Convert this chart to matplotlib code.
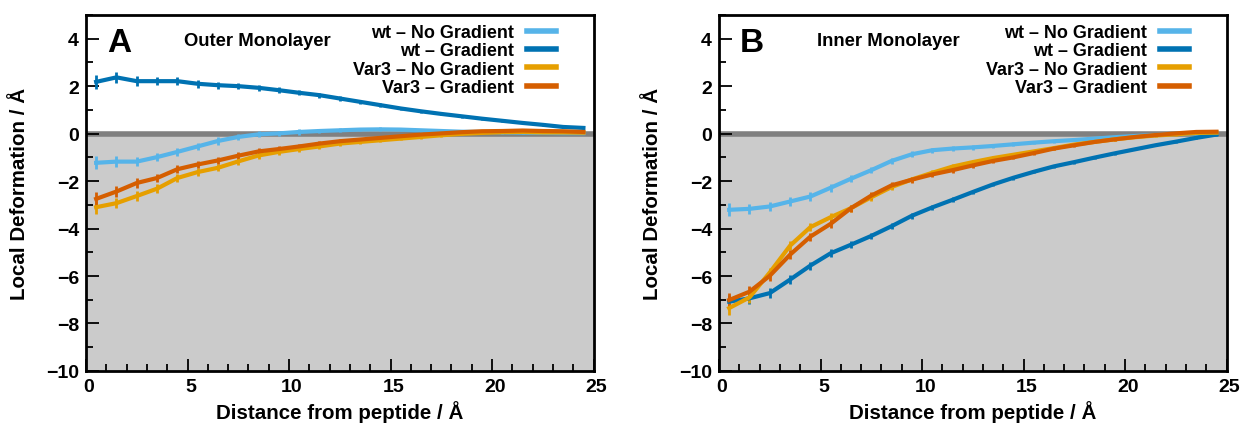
import numpy as np
import matplotlib
matplotlib.use('Agg')
from matplotlib import pyplot as plt
from matplotlib.ticker import MultipleLocator
from matplotlib.transforms import ScaledTranslation

plt.rcParams['font.family'] = ['Liberation Sans', 'DejaVu Sans']
plt.rcParams['font.weight'] = 'bold'

distance = [0.5 + i for i in range(25)]

# panel A - outer monolayer
outerWtNoGrad = [-1.23, -1.18, -1.18, -0.99, -0.77, -0.54, -0.31, -0.14, -0.03, 0.01, 0.07, 0.11, 0.14,
                 0.17, 0.18, 0.17, 0.14, 0.11, 0.08, 0.07, 0.05, 0.04, 0.03, 0.02, 0.02]
outerWtGrad = [2.18, 2.37, 2.21, 2.21, 2.21, 2.10, 2.04, 2.00, 1.93, 1.83, 1.72, 1.62, 1.48,
               1.34, 1.20, 1.06, 0.94, 0.83, 0.73, 0.63, 0.54, 0.45, 0.37, 0.28, 0.24]
outerVarNoGrad = [-3.10, -2.93, -2.63, -2.32, -1.87, -1.62, -1.44, -1.17, -0.92, -0.77, -0.65, -0.54, -0.42,
                  -0.35, -0.28, -0.21, -0.14, -0.07, -0.01, 0.03, 0.06, 0.07, 0.05, 0.05, 0.04]
outerVarGrad = [-2.75, -2.44, -2.08, -1.87, -1.50, -1.30, -1.13, -0.93, -0.75, -0.65, -0.54, -0.42, -0.32,
                -0.25, -0.18, -0.11, -0.04, 0.01, 0.06, 0.10, 0.11, 0.13, 0.11, 0.10, 0.07]

# panel B - inner monolayer
innerWtNoGrad = [-3.21, -3.17, -3.07, -2.86, -2.65, -2.28, -1.90, -1.54, -1.15, -0.87, -0.70, -0.63, -0.58,
                 -0.52, -0.45, -0.38, -0.32, -0.27, -0.21, -0.15, -0.10, -0.06, -0.01, 0.01, 0.03]
innerWtGrad = [-7.08, -6.94, -6.72, -6.15, -5.56, -5.04, -4.68, -4.31, -3.90, -3.46, -3.11, -2.79, -2.46,
               -2.14, -1.86, -1.61, -1.38, -1.20, -1.01, -0.83, -0.66, -0.49, -0.34, -0.18, -0.04]
innerVarNoGrad = [-7.35, -6.90, -5.85, -4.72, -3.94, -3.52, -3.14, -2.68, -2.25, -1.93, -1.65, -1.39, -1.20,
                  -1.03, -0.89, -0.75, -0.61, -0.46, -0.35, -0.24, -0.15, -0.08, -0.03, 0.03, 0.04]
innerVarGrad = [-7.01, -6.66, -5.99, -5.10, -4.34, -3.80, -3.14, -2.61, -2.18, -1.94, -1.72, -1.54, -1.34,
                -1.15, -1.00, -0.82, -0.63, -0.49, -0.35, -0.24, -0.14, -0.06, 0.01, 0.07, 0.08]

# rough error bar sizes
errBars = [0.28, 0.22, 0.2, 0.18, 0.17, 0.16, 0.15, 0.14, 0.13, 0.12, 0.11, 0.1, 0.09,
           0.08, 0.08, 0.07, 0.07, 0.06, 0.06, 0.06, 0.05, 0.05, 0.05, 0.05, 0.05]

labels = ['wt – No Gradient', 'wt – Gradient', 'Var3 – No Gradient', 'Var3 – Gradient']
colors = ['#56B4E9', '#0072B2', '#E69F00', '#D55E00']

panels = [
   ('A', 'Outer Monolayer', [outerWtNoGrad, outerWtGrad, outerVarNoGrad, outerVarGrad]),
   ('B', 'Inner Monolayer', [innerWtNoGrad, innerWtGrad, innerVarNoGrad, innerVarGrad]),
]

fig = plt.figure(figsize=(12.41, 4.31), dpi=100)
axesLefts = [0.0693, 0.5794]
shiftRight = ScaledTranslation(3 / 100, 0, fig.dpi_scale_trans)

for (letter, title, series), left in zip(panels, axesLefts):
   ax = fig.add_axes([left, 0.137, 0.409, 0.826])
   ax.axhspan(-10, 0, color='#cbcbcb', zorder=0, lw=0)
   ax.axhline(0, color='#808080', lw=4, zorder=1)
   for values, color, label in zip(series, colors, labels):
      ax.errorbar(distance, values, yerr=errBars, color=color, lw=3, elinewidth=2,
                  capsize=0, label=label, zorder=3)
   ax.set_xlim(0, 25)
   ax.set_ylim(-10, 5)
   ax.xaxis.set_major_locator(MultipleLocator(5))
   ax.xaxis.set_minor_locator(MultipleLocator(1))
   ax.yaxis.set_major_locator(MultipleLocator(2))
   ax.yaxis.set_minor_locator(MultipleLocator(1))
   ax.tick_params(which='both', direction='in', top=False, right=False, labelsize=14, width=1.3)
   ax.tick_params(which='major', length=9, pad=5)
   ax.tick_params(which='minor', length=5)
   for spine in ax.spines.values():
      spine.set_linewidth(2)
      spine.set_zorder(5)
   ax.set_yticks(range(-10, 5, 2))
   ax.set_yticklabels([str(t).replace('-', '−') for t in range(-10, 5, 2)])
   for lbl in ax.get_xticklabels():
      lbl.set_transform(lbl.get_transform() + shiftRight)
   ax.set_xlabel('Distance from peptide / Å', fontsize=14.8, fontweight='bold', labelpad=4)
   ax.set_ylabel('Local Deformation / Å', fontsize=14.8, fontweight='bold', labelpad=12)
   ax.text(0.041, 0.966, letter, transform=ax.transAxes, fontsize=24, fontweight='bold', va='top')
   ax.text(0.193, 0.928, title, transform=ax.transAxes, fontsize=13.3, fontweight='bold', va='center')
   handles = [plt.Line2D([], [], color=c, lw=4) for c in colors]
   leg = ax.legend(handles, labels, loc='upper right', bbox_to_anchor=(0.925, 0.975), frameon=False,
                   markerfirst=False, handlelength=1.6, handletextpad=0.7,
                   labelspacing=0.08, borderpad=0, borderaxespad=0,
                   prop={'weight': 'bold', 'size': 13})
   for text in leg.get_texts():
      text.set_ha('right')

fig.savefig('out.png', dpi=100)
